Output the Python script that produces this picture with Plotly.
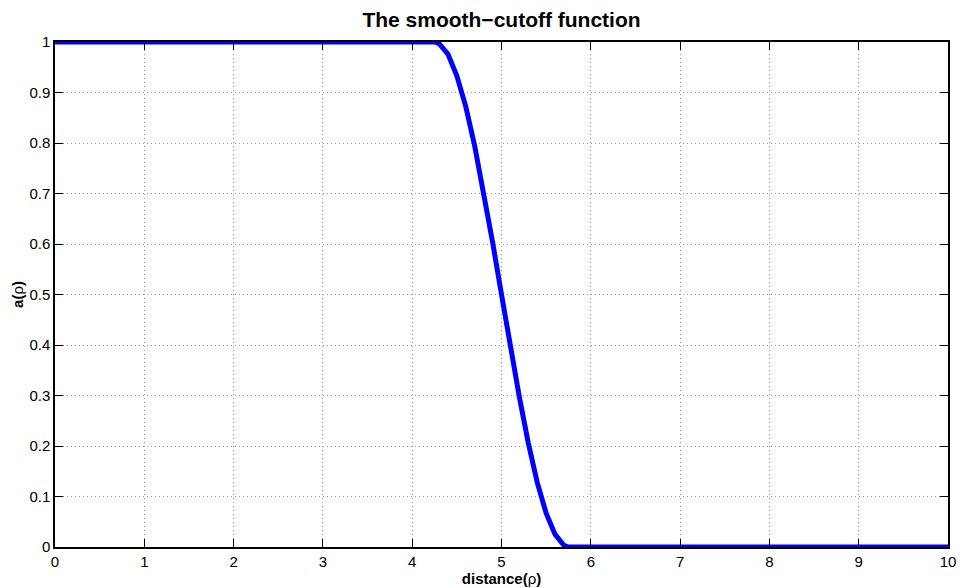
import plotly.graph_objects as go

# Smooth cutoff a(rho): flat at 1, smooth drop around rho = 5, zero beyond
rho = [0.0, 1.0, 2.0, 3.0, 4.0, 4.25, 4.3, 4.4, 4.5, 4.6, 4.7, 4.8, 4.9, 5.0,
       5.1, 5.2, 5.3, 5.4, 5.5, 5.6, 5.7, 5.75, 6.0, 7.0, 8.0, 9.0, 10.0]
a_rho = [1.0, 1.0, 1.0, 1.0, 1.0, 1.0, 0.997, 0.976, 0.933, 0.872, 0.794, 0.703,
         0.604, 0.5, 0.396, 0.297, 0.206, 0.128, 0.067, 0.025, 0.003, 0.0, 0.0,
         0.0, 0.0, 0.0, 0.0]

x_ticks = list(range(0, 11))
y_ticks = [i / 10 for i in range(0, 11)]
y_tick_text = ["0", "0.1", "0.2", "0.3", "0.4", "0.5", "0.6", "0.7", "0.8", "0.9", "1"]

FONT = "Liberation Sans, Arial, Helvetica, sans-serif"

fig = go.Figure()
fig.add_trace(go.Scatter(
    x=rho, y=a_rho, mode="lines",
    line=dict(color="#0000ff", width=5),
    cliponaxis=False, showlegend=False,
))

axis_common = dict(
    showline=True, linecolor="black", linewidth=1.5, mirror="ticks",
    ticks="inside", ticklen=8, tickwidth=1, tickcolor="black",
    showgrid=True, gridcolor="#9a9a9a", griddash="1px,3px", gridwidth=1,
    zeroline=False, automargin=False,
    tickfont=dict(family=FONT, size=15, color="black"),
)

fig.update_layout(
    width=962, height=588,
    margin=dict(l=55, r=14, t=42, b=41),
    paper_bgcolor="white", plot_bgcolor="white",
    title=dict(text="<b>The smooth\u2212cutoff function</b>", x=0.5, xref="paper",
               y=0.967, yanchor="middle",
               font=dict(family=FONT, size=21, color="black")),
    xaxis=dict(range=[0, 10], tickvals=x_ticks,
               title=dict(text="<b>distance(</b>\u03c1<b>)</b>", standoff=0,
                          font=dict(family=FONT, size=15, color="black")),
               **axis_common),
    yaxis=dict(range=[0, 1], tickvals=y_ticks, ticktext=y_tick_text,
               title=dict(text="<b>a(</b>\u03c1<b>)</b>", standoff=2,
                          font=dict(family=FONT, size=15, color="black")),
               **axis_common),
)

fig.write_html("out.html")
